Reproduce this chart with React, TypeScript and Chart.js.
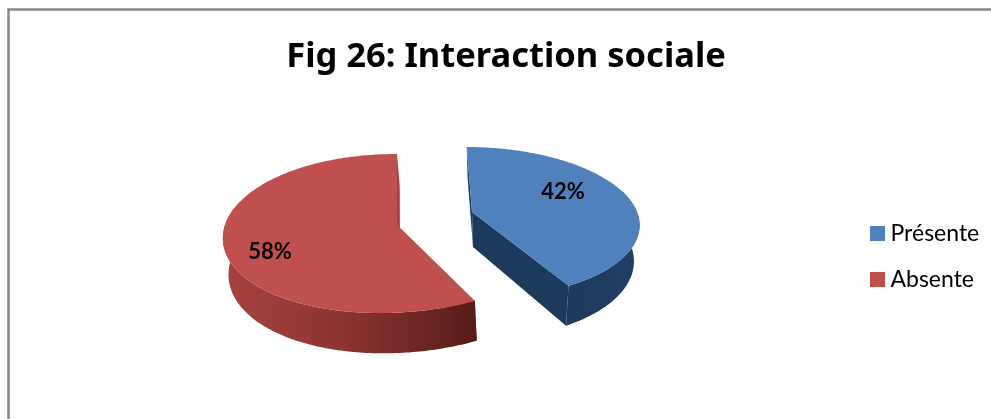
import React, { useEffect, useRef } from "react";
import { Chart, registerables } from "chart.js";

Chart.register(...registerables);

const titleText = "Fig 26: Interaction sociale";
const categories = ["Présente", "Absente"];
const shares = [42, 58];

const sliceColours = ["#4f81bd", "#c0504d"];
const wallStops = [
  ["#1c3a5c", "#1c3a5c", "#1f3f64"],
  ["#a5423f", "#8a3431", "#571c19"],
];

// Centre of the exploded pie and the perspective used for each slice's disc.
const pieCentre = { x: 434.5, y: 218.5 };
const slicePerspective = [
  { explodeX: 37.5, explodeY: -6.5, radiusX: 165, radiusY: 74, skew: 6, bow: 0, tilt: 0.139, depth: 35, floorScale: 0.96, floorShift: 1, labelDx: 91, labelDy: -20 },
  { explodeX: -37.5, explodeY: 6.5, radiusX: 172, radiusY: 78.6, skew: 0, bow: -15, tilt: 0.107, depth: 36, floorScale: 0.985, floorShift: 3, labelDx: -127, labelDy: 27 },
];
const RIM_STEP = Math.PI / 180;

type Persp = (typeof slicePerspective)[number];

function rimPoint(p: Persp, angle: number, radius: number, floor: boolean) {
  const u = Math.cos(angle) * radius;
  const v = Math.sin(angle) * radius;
  const w = 1 - p.tilt * v;
  const cx = pieCentre.x + p.explodeX;
  const cy = pieCentre.y + p.explodeY;
  const lean = p.skew * v + (p.bow * v * (1 + v)) / 2;
  if (floor) {
    return {
      x: cx + (p.radiusX * p.floorScale * u + lean + p.floorShift) / w,
      y: cy + (p.radiusY * v + p.depth) / w,
    };
  }
  return { x: cx + (p.radiusX * u + lean) / w, y: cy + (p.radiusY * v) / w };
}

function fillShape(ctx: CanvasRenderingContext2D, pts: { x: number; y: number }[], fill: CanvasGradient | string) {
  ctx.beginPath();
  pts.forEach((pt, i) => (i ? ctx.lineTo(pt.x, pt.y) : ctx.moveTo(pt.x, pt.y)));
  ctx.closePath();
  ctx.fillStyle = fill;
  ctx.fill();
}

function drawSlice(ctx: CanvasRenderingContext2D, arc: any, index: number) {
  const p = slicePerspective[index];
  const { startAngle, endAngle } = arc;
  const angles: number[] = [];
  for (let a = startAngle; a < endAngle; a += RIM_STEP) angles.push(a);
  angles.push(endAngle);

  const rim = angles.map((a) => rimPoint(p, a, 1, false));
  // Only the near part of the curved wall can be seen from above.
  const nearAngles = angles.filter((a) => Math.sin(a) > -0.3);
  const nearRim = nearAngles.map((a) => rimPoint(p, a, 1, false));
  const nearFloor = nearAngles.map((a) => rimPoint(p, a, 1, true));
  const xs = rim.map((pt) => pt.x);
  const wall = ctx.createLinearGradient(Math.min(...xs), 0, Math.max(...xs), 0);
  wallStops[index].forEach((c, i, all) => wall.addColorStop(i / (all.length - 1), c));

  // Side walls first: the two cut faces, then the curved rim in one piece.
  for (const a of [startAngle, endAngle]) {
    fillShape(ctx, [rimPoint(p, a, 0, false), rimPoint(p, a, 1, false), rimPoint(p, a, 1, true), rimPoint(p, a, 0, true)], wallStops[index][0]);
  }
  fillShape(ctx, [...nearRim, ...nearFloor.slice().reverse()], wall);

  // Top face of the slice.
  fillShape(ctx, [rimPoint(p, startAngle, 0, false), ...rim], sliceColours[index]);
}

const framePlugin = {
  id: "frame",
  beforeDraw(chart: any) {
    const ctx = chart.ctx;
    ctx.save();
    ctx.fillStyle = "#ffffff";
    ctx.fillRect(0, 0, chart.width, chart.height);
    ctx.strokeStyle = "#868686";
    ctx.lineWidth = 2.5;
    ctx.beginPath();
    ctx.moveTo(8.5, chart.height + 4);
    ctx.lineTo(8.5, 9.5);
    ctx.lineTo(chart.width + 4, 9.5);
    ctx.stroke();
    ctx.restore();
  },
  afterLayout(chart: any) {
    chart.legend.left = 852.4;
    chart.legend.top = 198;
  },
};

const pie3dPlugin = {
  id: "pie3d",
  beforeDatasetDraw(chart: any, args: any) {
    const ctx = chart.ctx;
    const arcs = args.meta.data;
    const values = chart.data.datasets[args.index].data as number[];
    ctx.save();
    // Red slice sits behind the blue one in drawing order.
    [1, 0].forEach((i) => drawSlice(ctx, arcs[i], i));
    ctx.fillStyle = "#000000";
    ctx.font = "bold 22px Lato";
    ctx.textAlign = "center";
    ctx.textBaseline = "middle";
    arcs.forEach((_: any, i: number) => {
      const p = slicePerspective[i];
      ctx.fillText(`${values[i]}%`, pieCentre.x + p.explodeX + p.labelDx, pieCentre.y + p.explodeY + p.labelDy);
    });
    ctx.restore();
    return false;
  },
};

function legendSwatch(colour: string) {
  const swatch = document.createElement("canvas");
  swatch.width = 15;
  swatch.height = 15;
  const c = swatch.getContext("2d")!;
  c.fillStyle = colour;
  c.fillRect(0, 0, 15, 15);
  return swatch;
}

export default function App() {
  const canvasRef = useRef<HTMLCanvasElement>(null);

  useEffect(() => {
    const chart = new Chart(canvasRef.current!, {
      type: "pie",
      data: {
        labels: categories,
        datasets: [{ data: shares, backgroundColor: sliceColours, borderWidth: 0 }],
      },
      options: {
        responsive: false,
        animation: false,
        devicePixelRatio: 1,
        layout: { padding: { left: 21 } },
        plugins: {
          title: {
            display: true,
            text: titleText,
            color: "#000000",
            font: { family: "Noto Sans", size: 34.5, weight: "bold" },
            padding: { top: 36, bottom: 10 },
          },
          legend: {
            position: "right",
            align: "start",
            labels: {
              color: "#000000",
              font: { family: "Lato", size: 23 },
              padding: 23.6,
              usePointStyle: true,
              pointStyleWidth: 3,
              boxHeight: 15,
              generateLabels: (c: any) =>
                Chart.overrides.pie.plugins.legend.labels.generateLabels(c).map((item: any) => ({
                  ...item,
                  pointStyle: legendSwatch(item.fillStyle),
                })),
            },
          },
          tooltip: { enabled: false },
        },
      },
      plugins: [framePlugin, pie3dPlugin],
    } as any);
    return () => chart.destroy();
  }, []);

  return (
    <div style={{ position: "fixed", left: 0, top: 0, width: 991, height: 419, overflow: "hidden", background: "#fff" }}>
      <canvas ref={canvasRef} width={991} height={419} style={{ display: "block" }} />
    </div>
  );
}
